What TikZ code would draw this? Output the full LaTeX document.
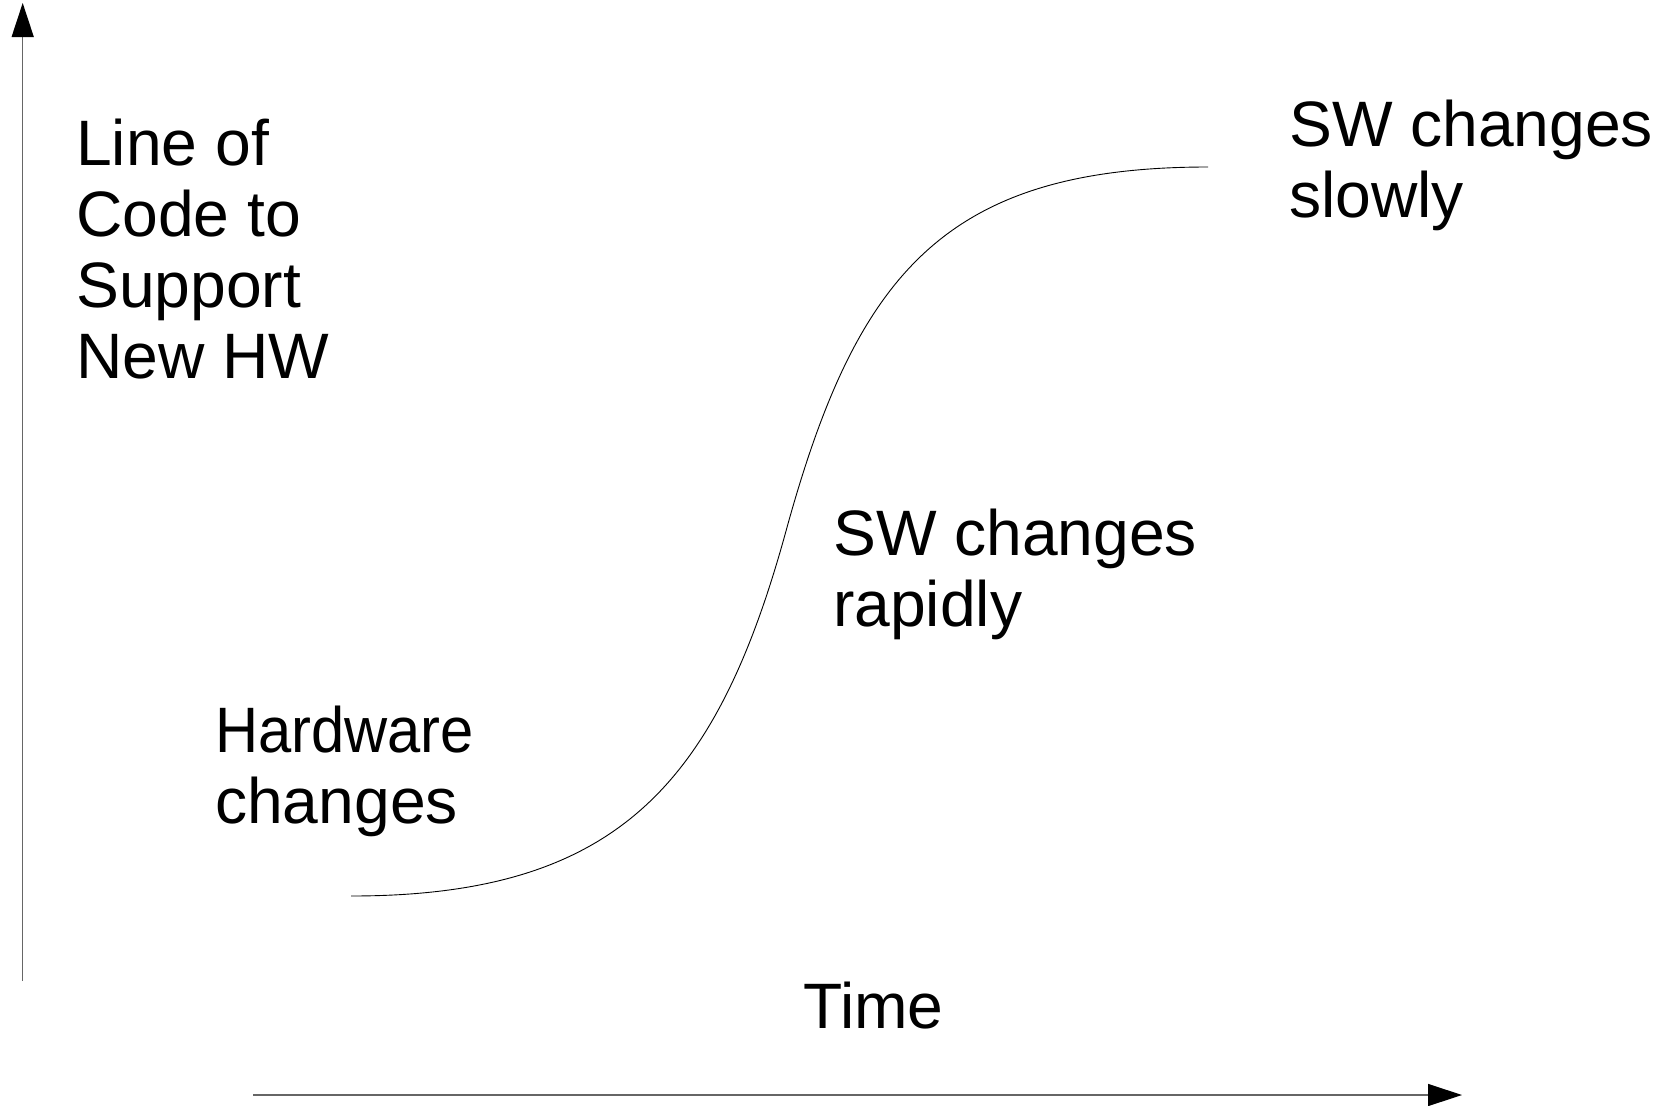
\documentclass[tikz,border=0pt]{standalone}
\usepackage{fontspec}
\setmainfont{Liberation Sans}
\usetikzlibrary{arrows.meta}
\begin{document}
\begin{tikzpicture}[x=1pt,y=-1pt,
  labeltext/.style={font=\fontsize{64.2}{71}\selectfont, align=left, inner sep=0pt, anchor=base west},
  axisline/.style={draw=black!60, line width=1.3pt, -{Triangle[length=34pt,width=22pt,color=black]}},
  sigmoid/.style={draw=black, line width=0.9pt}]
\useasboundingbox (0,0) rectangle (1666,1106);

% axes
\coordinate (yfoot) at (22.7,981);
\coordinate (ytip)  at (22.7,3);
\coordinate (xfoot) at (253,1095);
\coordinate (xtip)  at (1462,1095);
\draw[axisline] (yfoot) -- (ytip);
\draw[axisline] (xfoot) -- (xtip);

% S-shaped growth curve
\coordinate (cstart) at (351,896);
\coordinate (cmid)   at (786,531);
\coordinate (cend)   at (1208,167);
\draw[sigmoid] (cstart) .. controls (616,896) and (716,786) .. (cmid)
                        .. controls (856,276) and (943,167) .. (cend);

% labels (anchored at the baseline of their last line)
\node[labeltext] (ylabel) at (76,378) {Line of\\Code to\\Support\\New HW};
\node[labeltext] (hw)     at (215,823) {\scalebox{0.93}[1]{Hardware}\\changes};
\node[labeltext] (rapid)  at (833,626) {SW changes\\rapidly};
\node[labeltext] (slow)   at (1289,217) {SW changes\\slowly};
\node[labeltext] (time)   at (803,1028) {Time};
\end{tikzpicture}
\end{document}
